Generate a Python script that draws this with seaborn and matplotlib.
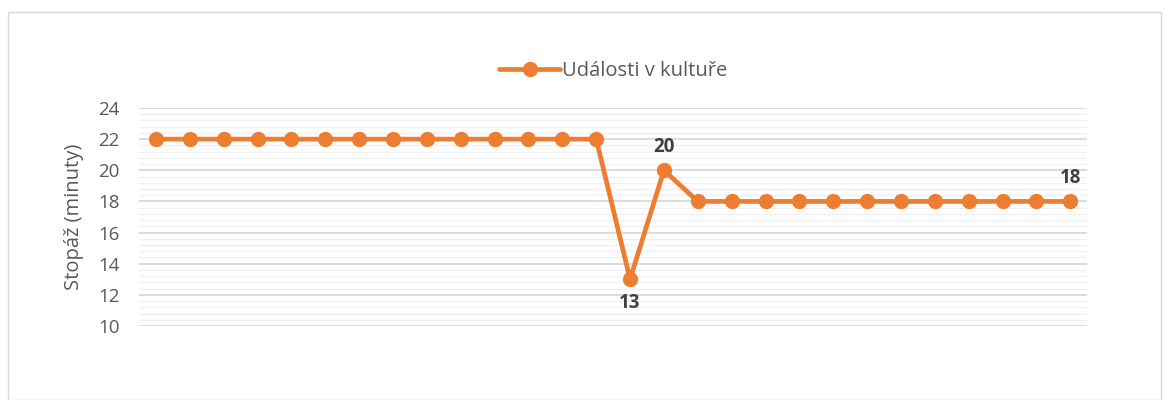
import numpy as np
import pandas as pd
import matplotlib.pyplot as plt
import seaborn as sns
from matplotlib.ticker import MultipleLocator
from matplotlib.patches import Rectangle

# data
dily = list(range(1, 29))
stopaz = [22] * 14 + [13, 20] + [18] * 12
popisky = {14: '13', 15: '20', 27: '18'}

df = pd.DataFrame({'dil': dily, 'stopaz': stopaz})

sns.set_style('white')
plt.rcParams['font.family'] = ['Open Sans', 'DejaVu Sans']

fig = plt.figure(figsize=(11.69, 4), dpi=100)
ax = fig.add_axes([0.119, 0.185, 0.811, 0.545])

sns.lineplot(data=df, x='dil', y='stopaz', ax=ax, color='#ED7D31', linewidth=3.4,
             marker='o', markersize=11, markeredgewidth=0, label='Události v kultuře')

ax.set_ylim(10, 24)
ax.set_xlim(0.5, 28.5)
ax.yaxis.set_major_locator(MultipleLocator(2))
ax.yaxis.set_minor_locator(MultipleLocator(0.4))
ax.grid(axis='y', which='major', color='#D9D9D9', linewidth=1.3)
ax.grid(axis='y', which='minor', color='#F0F0F0', linewidth=1.0)
ax.set_axisbelow(True)
ax.set_xticks([])
ax.set_xlabel('')
ax.set_ylabel('Stopáž (minuty)', fontsize=14.5, color='#595959', labelpad=10)
ax.tick_params(axis='y', labelsize=13.5, labelcolor='#595959', length=0, pad=14)
for s in ax.spines.values():
    s.set_visible(False)

for i, txt in popisky.items():
    y = stopaz[i]
    off = -17 if txt == '13' else 17
    ax.annotate(txt, (dily[i], y), xytext=(0, off), textcoords='offset points',
                ha='center', va='center', fontsize=13.5, fontweight='bold', color='#404040')

ax.legend(loc='lower center', bbox_to_anchor=(0.5, 1.04), frameon=False,
          fontsize=14.5, labelcolor='#595959', handlelength=3, handletextpad=0.1)

fig.patches.append(Rectangle((0.007, 0.0), 0.986, 0.97, transform=fig.transFigure,
                             fill=False, edgecolor='#D9D9D9', linewidth=1))

fig.savefig('out.png', dpi=100)
